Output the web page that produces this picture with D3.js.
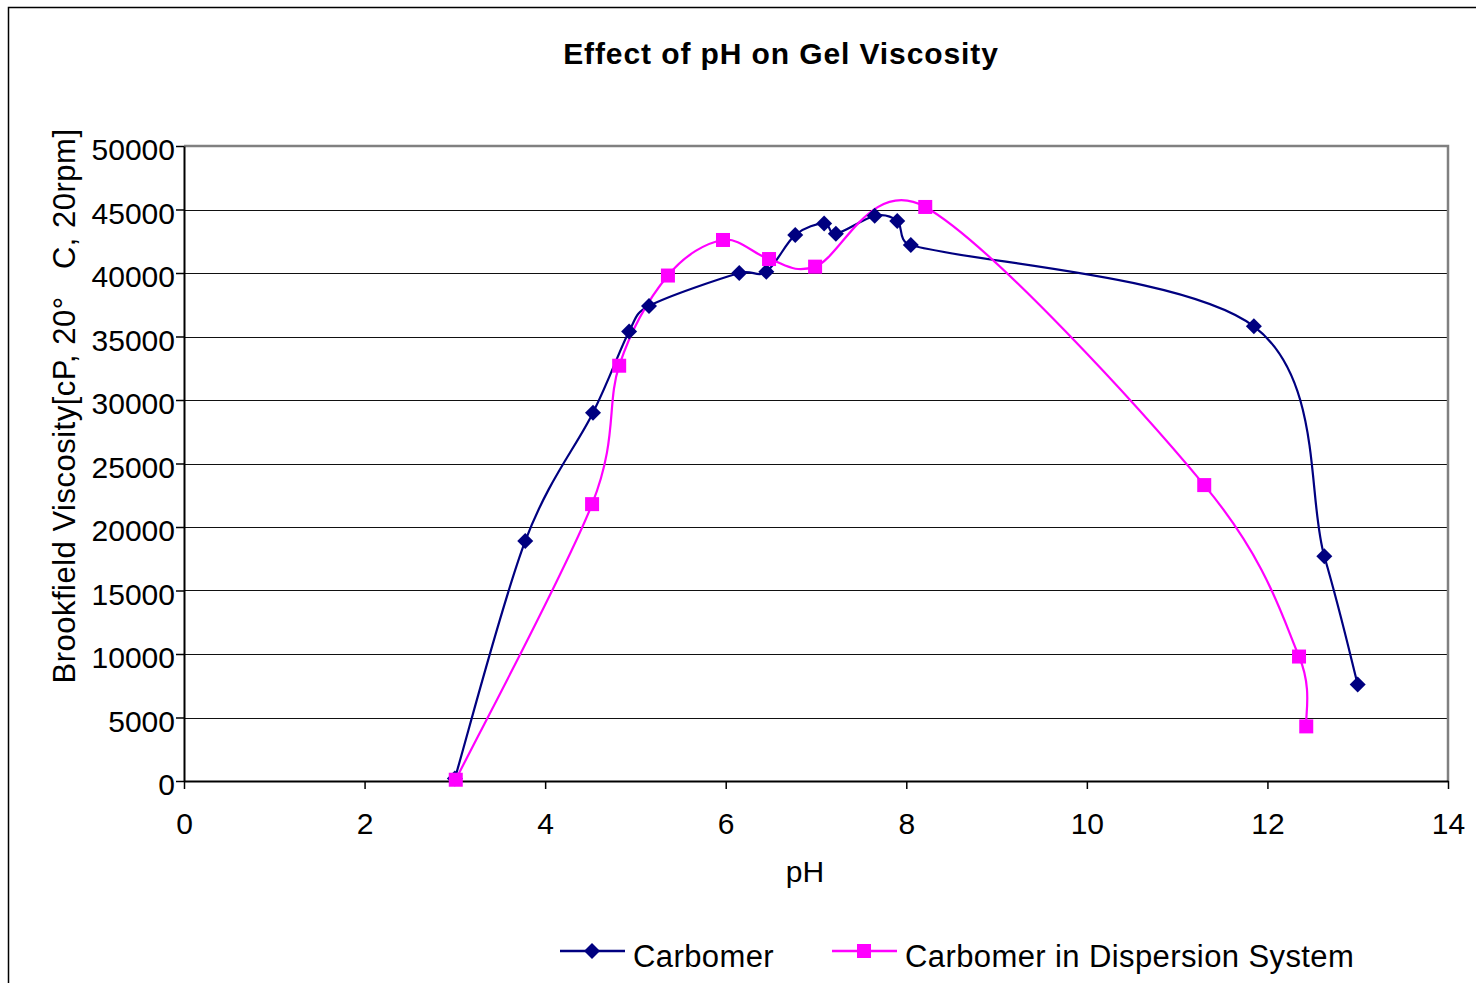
<!DOCTYPE html>
<html>
<head>
<meta charset="utf-8">
<script src="https://cdn.jsdelivr.net/npm/d3@7"></script>
<style>
  body { margin: 0; background: #fff; }
  text { font-family: "Liberation Sans", Arial, sans-serif; }
</style>
</head>
<body>
<div id="vis"></div>
<script>
// values
const carbomerPH = [3.0, 3.78, 4.53, 4.93, 5.15, 6.15, 6.45, 6.77, 7.09, 7.22, 7.65, 7.90, 8.05, 11.85, 12.63, 13.0];
const carbomerVisc = [200, 18900, 29000, 35400, 37400, 40000, 40100, 43000, 43900, 43100, 44500, 44100, 42200, 35800, 17700, 7600];
const dispersionPH = [3.01, 4.52, 4.82, 5.36, 5.97, 6.48, 6.99, 8.21, 11.30, 12.35, 12.43];
const dispersionVisc = [100, 21800, 32700, 39800, 42600, 41100, 40500, 45200, 23300, 9800, 4300];
const xTicks = [0, 2, 4, 6, 8, 10, 12, 14];
const yTicks = [0, 5000, 10000, 15000, 20000, 25000, 30000, 35000, 40000, 45000, 50000];
const seriesNames = ["Carbomer", "Carbomer in Dispersion System"];

const width = 1476, height = 983;

const svg = d3.select("#vis")
    .append("svg")
    .attr("width", width)
    .attr("height", height);

svg.append("rect")
    .attr("width", width)
    .attr("height", height)
    .attr("fill", "#fff");

// outer chart border (runs off the right and bottom edges)
svg.append("rect")
    .attr("x", 8.5)
    .attr("y", 7.5)
    .attr("width", width + 20)
    .attr("height", height + 20)
    .attr("fill", "none")
    .attr("stroke", "#000")
    .attr("stroke-width", 1.5);

const plotLeft = 184, plotRight = 1448, plotTop = 146, plotBottom = 781;

const x = d3.scaleLinear().domain([0, 14]).range([plotLeft, plotRight]);
const y = d3.scaleLinear().domain([0, 50000]).range([plotBottom, plotTop]);

// title
svg.append("text")
    .attr("x", 781)
    .attr("y", 64)
    .attr("text-anchor", "middle")
    .attr("font-weight", "bold")
    .attr("font-size", 30)
    .attr("letter-spacing", 0.9)
    .text("Effect of pH on Gel Viscosity");

// gridlines
svg.append("g")
    .selectAll("line")
    .data(yTicks.filter(d => d > 0 && d < 50000))
    .enter()
    .append("line")
    .attr("x1", plotLeft)
    .attr("x2", plotRight)
    .attr("y1", d => Math.round(y(d)) + 0.5)
    .attr("y2", d => Math.round(y(d)) + 0.5)
    .attr("stroke", "#111")
    .attr("stroke-width", 1);

// plot border top + right (grey)
svg.append("path")
    .attr("d", `M${plotLeft},${plotTop} H${plotRight} V${plotBottom}`)
    .attr("fill", "none")
    .attr("stroke", "#808080")
    .attr("stroke-width", 2.5);

// axes
const yAxis = svg.append("g")
    .attr("transform", `translate(${plotLeft},0)`)
    .call(d3.axisLeft(y).tickValues(yTicks).tickSize(8).tickSizeOuter(0).tickPadding(1).tickFormat(d => d));

const xAxis = svg.append("g")
    .attr("transform", `translate(0,${plotBottom})`)
    .call(d3.axisBottom(x).tickValues(xTicks).tickSize(8).tickSizeOuter(0).tickPadding(24).tickFormat(d => d));

[yAxis, xAxis].forEach(function (g) {
    g.select(".domain").attr("stroke", "#000").attr("stroke-width", 2);
    g.selectAll(".tick line").attr("stroke", "#000").attr("stroke-width", 1.5);
    g.selectAll(".tick text")
        .attr("font-size", 30)
        .attr("font-family", "Liberation Sans, Arial, sans-serif")
        .attr("fill", "#000");
});
yAxis.selectAll(".tick text").attr("dy", "0.46em");

// axis titles
svg.append("text")
    .attr("x", 805)
    .attr("y", 882)
    .attr("text-anchor", "middle")
    .attr("font-size", 30)
    .text("pH");

svg.append("text")
    .attr("transform", "translate(75,406) rotate(-90)")
    .attr("text-anchor", "middle")
    .attr("font-size", 31)
    .attr("letter-spacing", 0.5)
    .text("Brookfield Viscosity[cP, 20°\u00a0\u00a0\u00a0C, 20rpm]");

// Excel-style smoothed line: bezier through the points, control arms capped
function smoothPath(data) {
    const pts = data.map(d => [x(d[0]), y(d[1])]);
    const p = d3.path();
    const n = pts.length;
    p.moveTo(pts[0][0], pts[0][1]);
    for (let i = 0; i < n - 1; i++) {
        const p0 = pts[Math.max(i - 1, 0)], p1 = pts[i], p2 = pts[i + 1], p3 = pts[Math.min(i + 2, n - 1)];
        const half = Math.hypot(p2[0] - p1[0], p2[1] - p1[1]) / 2;
        let a1 = [(p2[0] - p0[0]) / 6, (p2[1] - p0[1]) / 6];
        let a2 = [(p3[0] - p1[0]) / 6, (p3[1] - p1[1]) / 6];
        const l1 = Math.hypot(a1[0], a1[1]), l2 = Math.hypot(a2[0], a2[1]);
        if (l1 > half) a1 = a1.map(v => v * half / l1);
        if (l2 > half) a2 = a2.map(v => v * half / l2);
        p.bezierCurveTo(p1[0] + a1[0], p1[1] + a1[1], p2[0] - a2[0], p2[1] - a2[1], p2[0], p2[1]);
    }
    return p.toString();
}

const carbomer = carbomerPH.map((p, i) => [p, carbomerVisc[i]]);
const dispersion = dispersionPH.map((p, i) => [p, dispersionVisc[i]]);

const navy = "#000080", magenta = "#ff00ff";

svg.append("path")
    .datum(carbomer)
    .attr("d", smoothPath)
    .attr("fill", "none")
    .attr("stroke", navy)
    .attr("stroke-width", 2.2);

svg.append("path")
    .datum(dispersion)
    .attr("d", smoothPath)
    .attr("fill", "none")
    .attr("stroke", magenta)
    .attr("stroke-width", 2.2);

const diamond = "M0,-8 L8,0 L0,8 L-8,0 Z";

svg.append("g")
    .selectAll("path")
    .data(carbomer)
    .enter()
    .append("path")
    .attr("transform", d => `translate(${x(d[0])},${y(d[1])})`)
    .attr("d", diamond)
    .attr("fill", navy);

svg.append("g")
    .selectAll("rect")
    .data(dispersion)
    .enter()
    .append("rect")
    .attr("x", d => x(d[0]) - 7)
    .attr("y", d => y(d[1]) - 7)
    .attr("width", 14)
    .attr("height", 14)
    .attr("fill", magenta);

// legend
const legend = svg.append("g");

legend.append("line")
    .attr("x1", 560).attr("x2", 625)
    .attr("y1", 951).attr("y2", 951)
    .attr("stroke", navy).attr("stroke-width", 2.5);
legend.append("path")
    .attr("transform", "translate(592,951)")
    .attr("d", diamond)
    .attr("fill", navy);
legend.append("text")
    .attr("x", 633).attr("y", 967)
    .attr("font-size", 31)
    .attr("letter-spacing", 0.4)
    .text(seriesNames[0]);

legend.append("line")
    .attr("x1", 832).attr("x2", 897)
    .attr("y1", 951).attr("y2", 951)
    .attr("stroke", magenta).attr("stroke-width", 2.5);
legend.append("rect")
    .attr("x", 857).attr("y", 944)
    .attr("width", 14).attr("height", 14)
    .attr("fill", magenta);
legend.append("text")
    .attr("x", 905).attr("y", 967)
    .attr("font-size", 31)
    .attr("letter-spacing", 0.4)
    .text(seriesNames[1]);
</script>
</body>
</html>
